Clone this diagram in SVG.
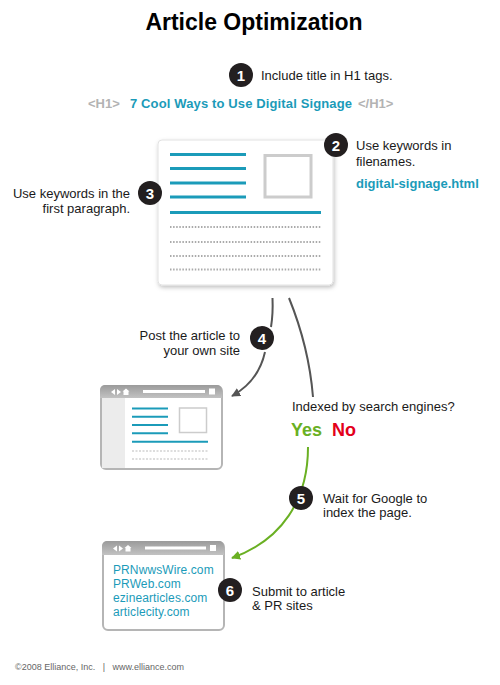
<svg xmlns="http://www.w3.org/2000/svg" width="500" height="685" viewBox="0 0 500 685">
<style>
text{font-family:"Liberation Sans","DejaVu Sans",sans-serif;}
.t{font-size:13px;fill:#1a1a1a;}
.num{font-size:15px;font-weight:bold;fill:#fff;text-anchor:middle;}
.badge{fill:#231f20;}
.teal{stroke:#1b9bb9;stroke-width:3;}
.tealthin{stroke:#1b9bb9;stroke-width:2;}
.dots{stroke:#aaa;stroke-width:2;stroke-dasharray:1.5 1.6;}
.dots2{stroke:#bbb;stroke-width:1;stroke-dasharray:2 1.5;}
.gline{fill:none;stroke:#555;stroke-width:2;}
.grn{fill:none;stroke:#6ab023;stroke-width:2;}
.win{fill:#fff;stroke:#b5b5b5;stroke-width:2;}
.hdr{fill:url(#hg);}
.link{font-size:12px;fill:#1b9bb9;letter-spacing:0.1px;}
</style>
<defs>
<linearGradient id="hg" x1="0" y1="0" x2="0" y2="1"><stop offset="0" stop-color="#9a9a9a"/><stop offset="1" stop-color="#c2c2c2"/></linearGradient>
<filter id="sh" x="-10%" y="-10%" width="125%" height="130%"><feDropShadow dx="1" dy="2" stdDeviation="2" flood-color="#000" flood-opacity="0.25"/></filter>
<marker id="ag" viewBox="0 0 10 10" refX="9" refY="5" markerWidth="9" markerHeight="9" markerUnits="userSpaceOnUse" orient="auto"><path d="M0,0 L10,5 L0,10 z" fill="#555"/></marker>
<marker id="agr" viewBox="0 0 10 10" refX="9" refY="5" markerWidth="9" markerHeight="9" markerUnits="userSpaceOnUse" orient="auto"><path d="M0,0 L10,5 L0,10 z" fill="#6ab023"/></marker>
<g id="navicons"><path d="M8,4 L4,7 L8,10 z M10,4 L14,7 L10,10 z M19,3.5 L22.5,6.5 L21.5,6.5 L21.5,10 L16.5,10 L16.5,6.5 L15.5,6.5 z" fill="#fff"/></g>
</defs>
<rect width="500" height="685" fill="#fff"/>

<text x="254" y="30" text-anchor="middle" style="font-size:23px;font-weight:bold;fill:#000">Article Optimization</text>

<g id="connectors">
<path class="gline" d="M272.5,298 C273,310 272.5,318 271,327"/>
<path class="gline" d="M265,352 C261,370 250,386 232,396" marker-end="url(#ag)"/>
<path class="gline" d="M289,298 C302,330 310,360 313,397"/>
<path class="grn" d="M308,447 C308,500 282,540 232,558" marker-end="url(#agr)"/>
</g>

<g id="step1">
<circle class="badge" cx="241" cy="75" r="12"/><text class="num" x="241" y="80.5">1</text>
<text class="t" x="261" y="80">Include title in H1 tags.</text>
</g>

<g id="h1line" style="font-size:13px;font-weight:bold">
<text x="88" y="108" fill="#b3b3b3">&lt;H1&gt;</text>
<text x="130" y="108" fill="#1b9bb9" textLength="222">7 Cool Ways to Use Digital Signage</text>
<text x="358" y="108" fill="#b3b3b3">&lt;/H1&gt;</text>
</g>

<g id="card">
<rect x="158" y="140" width="175" height="145" rx="4" fill="#fff" stroke="#e2e2e2" stroke-width="1" filter="url(#sh)"/>
<line class="teal" x1="170" y1="154.5" x2="246" y2="154.5"/>
<line class="teal" x1="170" y1="168.5" x2="246" y2="168.5"/>
<line class="teal" x1="170" y1="183" x2="246" y2="183"/>
<line class="teal" x1="170" y1="197" x2="246" y2="197"/>
<line class="teal" x1="170" y1="212.5" x2="321" y2="212.5"/>
<rect x="265" y="155.5" width="46" height="41.5" fill="#fff" stroke="#ccc" stroke-width="3"/>
<line class="dots" x1="170" y1="227" x2="321" y2="227"/>
<line class="dots" x1="170" y1="242" x2="321" y2="242"/>
<line class="dots" x1="170" y1="256" x2="321" y2="256"/>
<line class="dots" x1="170" y1="269.5" x2="321" y2="269.5"/>
</g>

<g id="step2">
<circle class="badge" cx="336" cy="145" r="12"/><text class="num" x="336" y="150.5">2</text>
<text class="t" x="356" y="150">Use keywords in</text>
<text class="t" x="356" y="166">filenames.</text>
<text x="356" y="188" style="font-size:13px;font-weight:bold;fill:#1b9bb9">digital-signage.html</text>
</g>

<g id="step3">
<circle class="badge" cx="150" cy="193" r="12"/><text class="num" x="150" y="198.5">3</text>
<text class="t" x="130" y="198" text-anchor="end">Use keywords in the</text>
<text class="t" x="130" y="213" text-anchor="end">first paragraph.</text>
</g>

<g id="step4">
<circle class="badge" cx="262" cy="338" r="12"/><text class="num" x="262" y="343.5">4</text>
<text class="t" x="240" y="340" text-anchor="end">Post the article to</text>
<text class="t" x="240" y="355" text-anchor="end">your own site</text>
</g>

<g id="browser1">
<rect class="win" x="101" y="386" width="121" height="83" rx="5"/>
<path class="hdr" d="M106,385 H217 A5,5 0 0 1 222,390 V398 H100 V390 A5,5 0 0 1 106,385 z"/>
<use href="#navicons" x="107" y="385"/>
<rect x="143" y="390" width="62" height="3" fill="#fff"/>
<rect x="209" y="388.5" width="6" height="6" fill="#fff"/>
<rect x="102" y="398" width="23" height="70" fill="#ececec"/>
<line class="tealthin" x1="132" y1="408.5" x2="168" y2="408.5"/>
<line class="tealthin" x1="132" y1="416.8" x2="168" y2="416.8"/>
<line class="tealthin" x1="132" y1="425" x2="168" y2="425"/>
<line class="tealthin" x1="132" y1="433.3" x2="168" y2="433.3"/>
<line class="tealthin" x1="132" y1="441.7" x2="208" y2="441.7"/>
<rect x="179.5" y="408" width="27" height="24.5" fill="#fff" stroke="#ccc" stroke-width="1.5"/>
<line class="dots2" x1="132" y1="451" x2="208" y2="451"/>
<line class="dots2" x1="132" y1="459" x2="208" y2="459"/>
</g>

<g id="decision">
<text class="t" x="292" y="411">Indexed by search engines?</text>
<text x="291" y="436" style="font-size:18px;font-weight:bold;fill:#6ab023">Yes</text>
<text x="332" y="436" style="font-size:18px;font-weight:bold;fill:#e3001b">No</text>
</g>

<g id="step5">
<circle class="badge" cx="301" cy="498" r="12"/><text class="num" x="301" y="503.5">5</text>
<text class="t" x="323" y="503">Wait for Google to</text>
<text class="t" x="323" y="517">index the page.</text>
</g>

<g id="browser2">
<rect class="win" x="103" y="542" width="121" height="88" rx="5"/>
<path class="hdr" d="M108,541 H219 A5,5 0 0 1 224,546 V555 H102 V546 A5,5 0 0 1 108,541 z"/>
<use href="#navicons" x="109" y="541.5"/>
<rect x="145" y="546.5" width="61" height="3" fill="#fff"/>
<rect x="210" y="545" width="6" height="6" fill="#fff"/>
<text class="link" x="113" y="574">PRNwwsWire.com</text>
<text class="link" x="113" y="588">PRWeb.com</text>
<text class="link" x="113" y="602">ezinearticles.com</text>
<text class="link" x="113" y="616">articlecity.com</text>
</g>

<g id="step6">
<circle class="badge" cx="230" cy="590" r="12"/><text class="num" x="230" y="595.5">6</text>
<text class="t" x="252" y="596">Submit to article</text>
<text class="t" x="252" y="610">&amp; PR sites</text>
</g>

<text x="15" y="670" style="font-size:9px;fill:#666;white-space:pre">©2008 Elliance, Inc.   |   www.elliance.com</text>
</svg>
